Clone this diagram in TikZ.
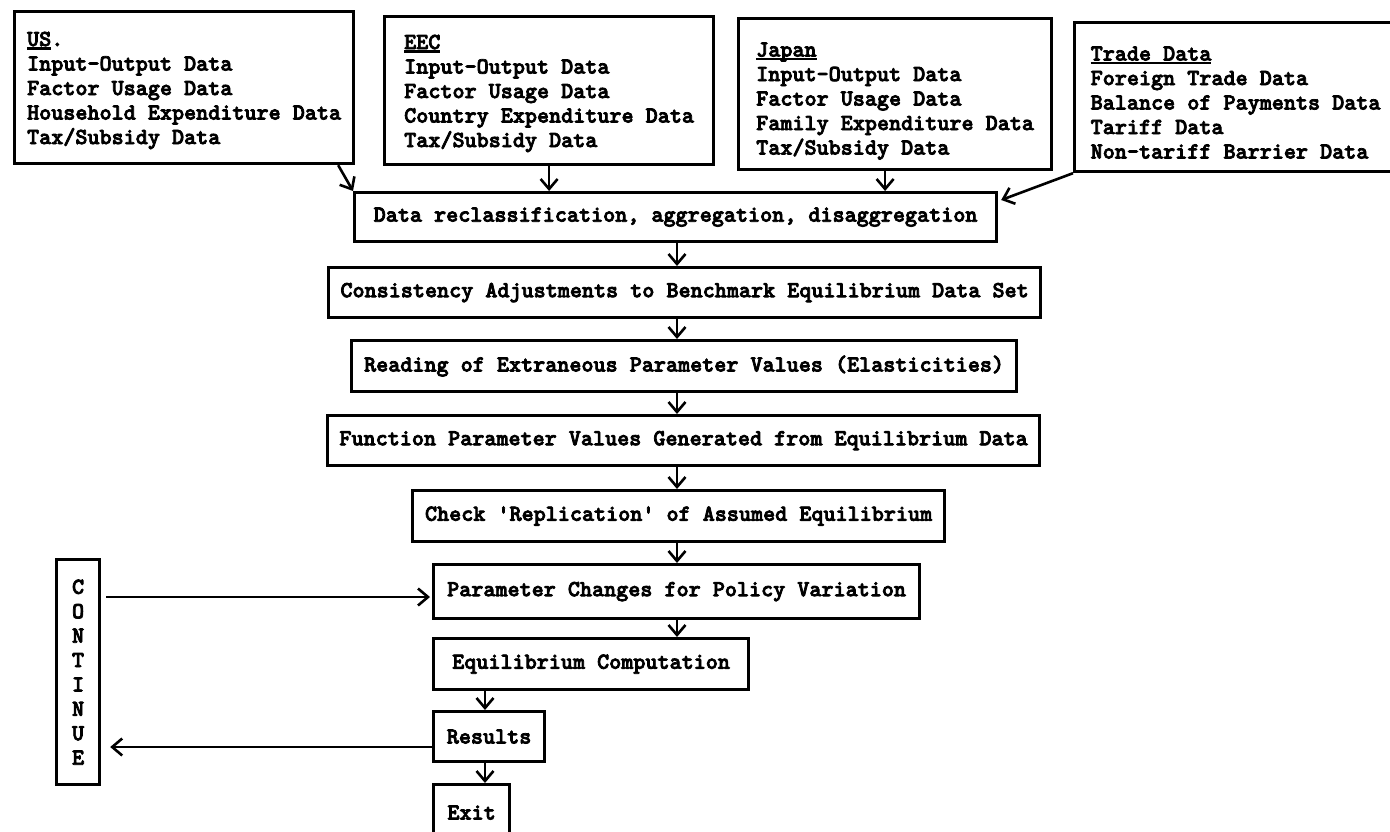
\documentclass[tikz,border=0pt]{standalone}
\usepackage{fontspec}
\usetikzlibrary{arrows.meta,calc}
\newfontfamily\tyf[Extension=.otf,FakeBold=3.2]{lmmonolt10-bold}
\newcommand{\tyfont}{\fontsize{23}{24.5}\selectfont\tyf}
\newcommand{\hul}[1]{\setbox0\hbox{#1}\rlap{\smash{\rule[-3.5pt]{\wd0}{2.2pt}}}\box0}
\begin{document}
\begin{tikzpicture}[x=1pt,y=-1pt,
  box/.style={draw, line width=3.2pt, rectangle, inner sep=0pt, anchor=north west, font=\tyfont},
  topbox/.style={box, align=left},
  leftbox/.style={box, inner xsep=13pt, align=left},
  arr/.style={line width=2.6pt, -{Straight Barb[length=10pt,width=17pt,line width=2.6pt]}}]
\useasboundingbox (0,0) rectangle (1390,832);
\clip (0,0) rectangle (1390,832);
% top data boxes
\node[topbox, minimum width=339, minimum height=152] (us) at (13,10)
  {\rule{0pt}{20pt}\hul{US}.\\Input-Output Data\\Factor Usage Data\\Household Expenditure Data\\Tax/Subsidy Data};
\node[topbox, minimum width=329, minimum height=148] (eec) at (383,15)
  {\rule{0pt}{20pt}\hul{EEC}\\Input-Output Data\\Factor Usage Data\\Country Expenditure Data\\Tax/Subsidy Data};
\node[topbox, minimum width=313, minimum height=151] (japan) at (737,17)
  {\rule{0pt}{28pt}\hul{Japan}\\Input-Output Data\\Factor Usage Data\\Family Expenditure Data\\Tax/Subsidy Data};
\node[topbox, minimum width=322, minimum height=149] (trade) at (1073,21)
  {\rule{0pt}{25pt}\hul{Trade Data}\\Foreign Trade Data\\Balance of Payments Data\\Tariff Data\\Non-tariff Barrier Data};
% main flow
\node[box, minimum width=642, minimum height=49] (reclass) at (353,191)
  {Data reclassification, aggregation, disaggregation};
\node[box, minimum width=712, minimum height=50] (consist) at (327,266)
  {Consistency Adjustments to Benchmark Equilibrium Data Set};
\node[box, minimum width=665, minimum height=51] (reading) at (350,339)
  {Reading of Extraneous Parameter Values (Elasticities)};
\node[box, minimum width=712, minimum height=50] (function) at (326,414)
  {Function Parameter Values Generated from Equilibrium Data};
\node[box, minimum width=532, minimum height=51] (check) at (411,489)
  {Check \textquotesingle Replication\textquotesingle\ of Assumed Equilibrium};
\node[box, minimum width=486, minimum height=54] (param) at (432,563)
  {Parameter Changes for Policy Variation};
\node[leftbox, minimum width=315, minimum height=51] (equil) at (432,637)
  {Equilibrium Computation};
\node[leftbox, minimum width=111, minimum height=50] (results) at (432,710)
  {Results};
\node[leftbox, minimum width=76, minimum height=56] (exit) at (432,783)
  {Exit};
\node[box, align=center, minimum width=43, minimum height=225, font=\fontsize{23}{24.4}\selectfont\tyf] (cont) at (55,558)
  {C\\O\\N\\T\\I\\N\\U\\E};
% connectors
\coordinate (cx) at (677,0);
\coordinate (rx) at (485,0);
\coordinate (ay) at (0,597);
\coordinate (by) at (0,747);
\draw[arr] ($(us.south east)+(-17,0)$) -- (reclass.north west);
\draw[arr] (eec.south) -- (eec.south |- reclass.north);
\draw[arr] ($(japan.south)+(-10,0)$) coordinate (j1) -- (j1 |- reclass.north);
\draw[arr] (trade.south west) -- ($(reclass.north east)+(3,9)$);
\draw[arr] (reclass.south -| cx) -- (consist.north -| cx);
\draw[arr] (consist.south -| cx) -- (reading.north -| cx);
\draw[arr] (reading.south -| cx) -- (function.north -| cx);
\draw[arr] (function.south -| cx) -- (check.north -| cx);
\draw[arr] (check.south -| cx) -- (param.north -| cx);
\draw[arr] (param.south -| cx) -- (equil.north -| cx);
\draw[arr] (equil.south -| rx) -- (results.north -| rx);
\draw[arr] (results.south -| rx) -- (exit.north -| rx);
\draw[arr] ([xshift=5pt]cont.east |- ay) -- ([xshift=-2pt]param.west |- ay);
\draw[arr] (results.west |- by) -- ([xshift=9pt]cont.east |- by);
\end{tikzpicture}
\end{document}
